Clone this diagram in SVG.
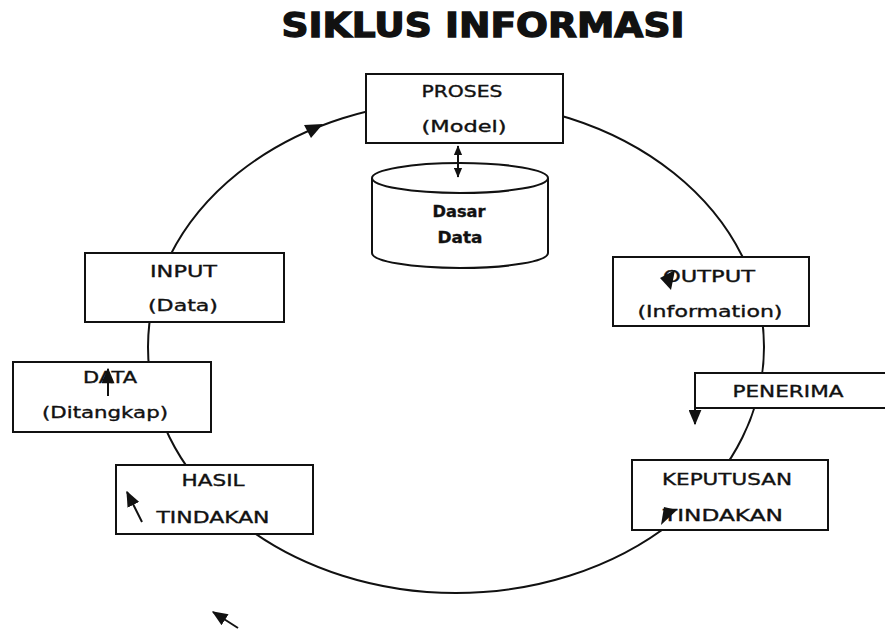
<svg xmlns="http://www.w3.org/2000/svg" width="885" height="630" viewBox="0 0 885 630">
<style>
.box{fill:#fff;stroke:#111;stroke-width:2}
.t{font-family:"DejaVu Sans","Liberation Sans",sans-serif;font-size:15.5px;fill:#111;stroke:#111;stroke-width:0.35;text-anchor:middle}
.b{font-weight:bold}
.ln{fill:none;stroke:#111;stroke-width:2}
.hd{fill:#111;stroke:none}
</style>
<defs>
<marker id="ah" viewBox="0 0 12 10" refX="11" refY="5" markerWidth="8" markerHeight="6.5" orient="auto-start-reverse" markerUnits="strokeWidth">
<path d="M0,0 L12,5 L0,10 Z" fill="#111"/>
</marker>
<marker id="ahs" viewBox="0 0 12 10" refX="11" refY="5" markerWidth="5" markerHeight="4.5" orient="auto-start-reverse" markerUnits="strokeWidth">
<path d="M0,0 L12,5 L0,10 Z" fill="#111"/>
</marker>
</defs>
<rect width="885" height="630" fill="#fff"/>
<text x="483" y="37" font-family="'DejaVu Sans','Liberation Sans',sans-serif" font-size="33" font-weight="bold" text-anchor="middle" textLength="403" lengthAdjust="spacingAndGlyphs" fill="#111" stroke="#111" stroke-width="1.3">SIKLUS INFORMASI</text>
<g id="cycle">
<ellipse class="ln" cx="456" cy="347" rx="308" ry="246"/>
</g>
<g id="proses">
<rect class="box" x="366" y="74" width="197" height="69"/>
<text class="t" x="462" y="97" textLength="81" lengthAdjust="spacingAndGlyphs">PROSES</text>
<text class="t" x="464" y="132" textLength="85" lengthAdjust="spacingAndGlyphs">(Model)</text>
</g>
<g id="dasar-data">
<path class="box" d="M372,178 L372,253 A88,15 0 0 0 548,253 L548,178"/>
<ellipse class="box" cx="460" cy="178" rx="88" ry="15"/>
<text class="t b" x="459" y="217" textLength="53" lengthAdjust="spacingAndGlyphs">Dasar</text>
<text class="t b" x="460" y="243" textLength="45" lengthAdjust="spacingAndGlyphs">Data</text>
</g>
<g id="input">
<rect class="box" x="85" y="253" width="199" height="69"/>
<text class="t" x="183.5" y="277" textLength="67" lengthAdjust="spacingAndGlyphs">INPUT</text>
<text class="t" x="183" y="311" textLength="70" lengthAdjust="spacingAndGlyphs">(Data)</text>
</g>
<g id="data-ditangkap">
<rect class="box" x="13" y="362" width="198" height="70"/>
<text class="t" x="110" y="383" textLength="54" lengthAdjust="spacingAndGlyphs">DATA</text>
<text class="t" x="105" y="418" textLength="126" lengthAdjust="spacingAndGlyphs">(Ditangkap)</text>
</g>
<g id="hasil">
<rect class="box" x="116" y="465" width="197" height="69"/>
<text class="t" x="213" y="486" textLength="63" lengthAdjust="spacingAndGlyphs">HASIL</text>
<text class="t" x="213" y="523" textLength="113" lengthAdjust="spacingAndGlyphs">TINDAKAN</text>
</g>
<g id="output">
<rect class="box" x="613" y="257" width="196" height="69"/>
<text class="t" x="709" y="282" textLength="92" lengthAdjust="spacingAndGlyphs">OUTPUT</text>
<text class="t" x="710" y="317" textLength="145" lengthAdjust="spacingAndGlyphs">(Information)</text>
</g>
<g id="penerima">
<rect class="box" x="695" y="373" width="200" height="35"/>
<text class="t" x="788" y="397" textLength="111" lengthAdjust="spacingAndGlyphs">PENERIMA</text>
</g>
<g id="keputusan">
<rect class="box" x="632" y="460" width="196" height="70"/>
<text class="t" x="727" y="485" textLength="130" lengthAdjust="spacingAndGlyphs">KEPUTUSAN</text>
<text class="t" x="723" y="521" textLength="120" lengthAdjust="spacingAndGlyphs">TINDAKAN</text>
</g>
<g id="connectors">
<line class="ln" x1="458" y1="146" x2="458" y2="177" stroke-width="2" marker-start="url(#ahs)" marker-end="url(#ahs)"/>
<path class="hd" d="M323,124 L304,125 L311,138 Z"/>
<line class="ln" x1="108" y1="396" x2="108" y2="369" marker-end="url(#ah)"/>
<line class="ln" x1="695" y1="395" x2="695" y2="424" marker-end="url(#ah)"/>
<line class="ln" x1="142" y1="522" x2="127" y2="492" marker-end="url(#ah)"/>
<line class="ln" x1="238" y1="628" x2="213" y2="612" marker-end="url(#ah)"/>
<path class="hd" d="M660,278 L675,270 L671,290 Z"/>
<path class="hd" d="M661,525 L664,507 L677,510 Z"/>
</g>
</svg>
